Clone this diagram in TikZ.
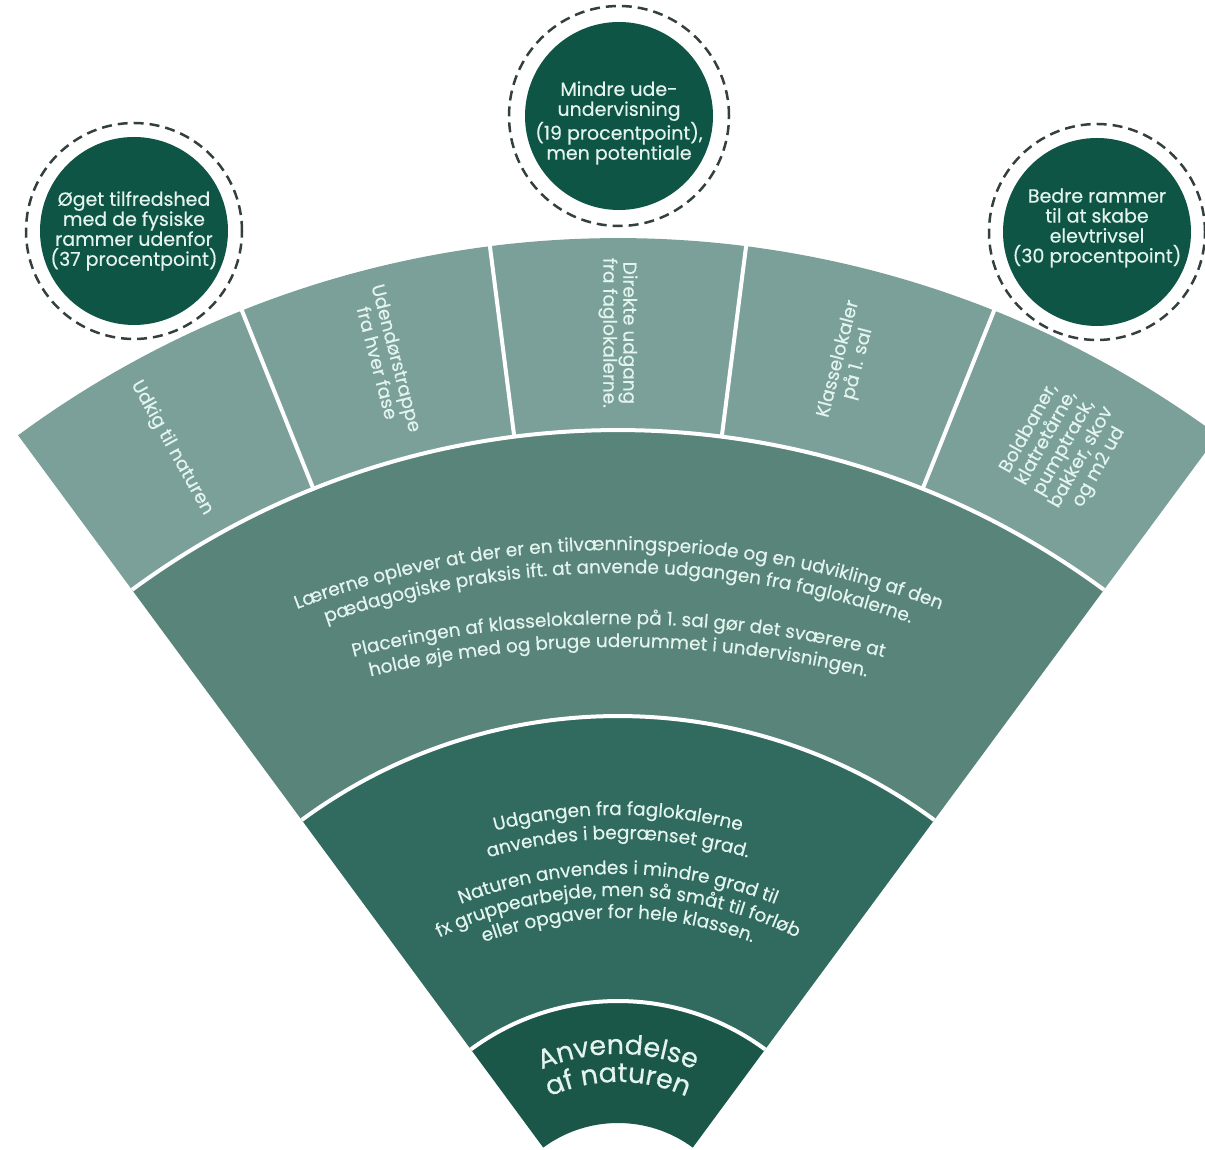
\documentclass[tikz,border=0pt]{standalone}
\usepackage{fontspec}
\setmainfont{Poppins}[FakeBold=0.4]
\usetikzlibrary{calc,decorations.text}
\definecolor{segc}{HTML}{7BA09A}
\definecolor{midc}{HTML}{598479}
\definecolor{ringc}{HTML}{316B5F}
\definecolor{innc}{HTML}{1A5749}
\definecolor{discc}{HTML}{0F5545}
\definecolor{txtc}{HTML}{E3F4EE}
\definecolor{dashc}{HTML}{34403E}
\newcommand\fansector[5]{%
  \fill[#1] ($(A)+(#2:#4)$) arc[start angle=#2,end angle=#3,radius=#4]
    -- ($(A)+(#3:#5)$) arc[start angle=#3,end angle=#2,radius=#5] -- cycle;}
\newcommand\midfmt{\fontsize{18.5}{20}\selectfont\color{txtc}}
\newcommand\ringfmt{\fontsize{18.5}{20}\selectfont\color{txtc}}
\newcommand\innfmt{\fontsize{27}{30}\selectfont\color{txtc}}
\newcommand\arctext[3]{%
  \path[decorate,decoration={text along path,text align=center,text={#3}}]
    ($(#1)+(130:#2)$) arc[start angle=130,end angle=50,radius=#2];}
\begin{document}
\begin{tikzpicture}[x=1pt,y=1pt,
  disc/.style={circle,fill=discc,minimum size=188pt,inner sep=0pt},
  disctext/.style={text=txtc,align=center,inner sep=0pt,font=\fontsize{19}{20}\selectfont},
  dashring/.style={draw=dashc,line width=2.5pt,dash pattern=on 10pt off 6pt},
  seglabel/.style={text=txtc,align=center,font=\fontsize{18.5}{20}\selectfont,inner sep=0pt},
  sep/.style={draw=white,line width=4pt}]
\useasboundingbox (0,0) rectangle (1205,1149);
\clip (0,0) rectangle (1205,1149);
\coordinate (A) at (618,-100);
\coordinate (C1) at (618,-301);
\coordinate (C1b) at (618,-551);
\coordinate (C2) at (618,-151);
% rings
\fansector{innc}{126.4}{53.6}{126}{248}
\fansector{ringc}{126.4}{53.6}{248}{533}
\fansector{midc}{126.4}{53.6}{533}{819}
\fansector{segc}{126.4}{53.6}{819}{1011}
% separators
\draw[sep] ($(A)+(126.4:248)$) arc[start angle=126.4,end angle=53.6,radius=248];
\draw[sep] ($(A)+(126.4:533)$) arc[start angle=126.4,end angle=53.6,radius=533];
\draw[sep] ($(A)+(126.4:819)$) arc[start angle=126.4,end angle=53.6,radius=819];
\foreach \a in {111.84,97.28,82.72,68.16}{
  \draw[sep] ($(A)+(\a:819)$) -- ($(A)+(\a:1013)$);}
% outer segment labels
\node[seglabel,rotate=-60.88] (s1) at ($(A)+(119.12:917)$) {Udkig til naturen};
\node[seglabel,rotate=-75.44] (s2) at ($(A)+(104.56:918)$) {Udendørstrappe\\fra hver fase};
\node[seglabel,rotate=-90] (s3) at ($(A)+(90:916)$) {Direkte udgang\\fra faglokalerne.};
\node[seglabel,rotate=75.44] (s4) at ($(A)+(75.44:917)$) {Klasselokaler\\på 1. sal};
\node[seglabel,rotate=60.88] (s5) at ($(A)+(60.88:917)$) {Boldbaner,\\klatretårne,\\pumptrack,\\bakker, skov\\og m2 ud};
% middle ring text
\arctext{C1}{900}{|\midfmt|Lærerne oplever at der er en tilvænningsperiode og en udvikling af den}
\arctext{C1}{877}{|\midfmt|pædagogiske praksis ift. at anvende udgangen fra faglokalerne.}
\arctext{C1b}{1076}{|\midfmt|Placeringen af klasselokalerne på 1. sal gør det sværere at}
\arctext{C1b}{1053}{|\midfmt|holde øje med og bruge uderummet i undervisningen.}
% second ring text
\arctext{C2}{485}{|\ringfmt|Udgangen fra faglokalerne}
\arctext{C2}{461}{|\ringfmt|anvendes i begrænset grad.}
\arctext{C2}{426}{|\ringfmt|Naturen anvendes i mindre grad til}
\arctext{C2}{404}{|\ringfmt|fx gruppearbejde, men så småt til forløb}
\arctext{C2}{382}{|\ringfmt|eller opgaver for hele klassen.}
% inner text
\arctext{A}{195}{|\innfmt|Anvendelse}
\arctext{A}{167}{|\innfmt|af naturen}
% circles
\node[disc] (c1) at (134,918) {};
\node[disc] (c2) at (619,1033) {};
\node[disc] (c3) at (1097,917) {};
\node[disctext] (t1) at (134,918) {Øget tilfredshed\\med de fysiske\\rammer udenfor\\(37 procentpoint)};
\node[disctext] (t2) at (619,1026) {Mindre ude-\\undervisning\\(19 procentpoint),\\men potentiale};
\node[disctext] (t3) at (1097,921) {Bedre rammer\\til at skabe\\elevtrivsel\\(30 procentpoint)};
\draw[dashring] (c1.center) circle[radius=108];
\draw[dashring] (c2.center) circle[radius=110];
\draw[dashring] (c3.center) circle[radius=108];
\end{tikzpicture}
\end{document}
